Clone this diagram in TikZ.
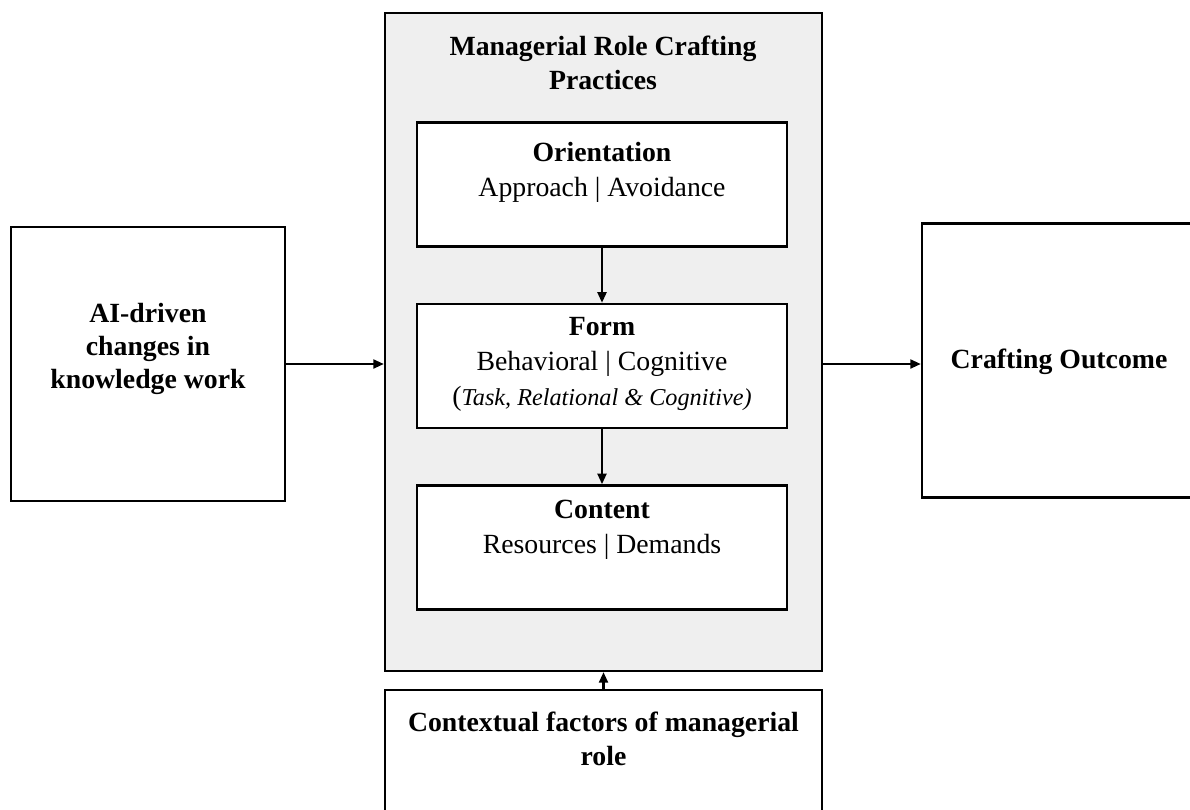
\documentclass[tikz,border=0pt]{standalone}
\usepackage{fontspec}
\setmainfont{Liberation Serif}
\usetikzlibrary{arrows.meta,positioning,calc}
\definecolor{mrPanel}{HTML}{EFEFEF}
\tikzset{
  mrbox/.style={draw, line width=1.4pt, fill=white, minimum width=7.4cm, minimum height=2.48cm, inner sep=0pt},
  sidebox/.style={mrbox, minimum width=5.48cm, minimum height=5.48cm},
  panel/.style={draw, line width=1.4pt, fill=mrPanel, minimum width=8.74cm, minimum height=13.16cm, inner sep=0pt},
  headtxt/.style={font=\fontsize{15.8}{19}\selectfont\bfseries, align=center, inner sep=0pt},
  bodytxt/.style={font=\fontsize{15.8}{20}\selectfont, align=center, inner sep=0pt},
  flow/.style={-{Triangle[length=2.1mm,width=1.8mm]}, line width=1.2pt}
}

\begin{document}
\begin{tikzpicture}[x=0.02cm, y=-0.02cm, node distance=1.1cm]
  \useasboundingbox (0,0) rectangle (1190,809);
  \clip (0,0) rectangle (1190,809);

  % central panel with the three facets
  \node[panel] (panel) at (603.5,342) {};
  \node[headtxt] (title) at (603,63) {Managerial Role Crafting\\Practices};
  \node[mrbox] (orient) at (602,184.5) {};
  \node[mrbox, below=of orient] (form) {};
  \node[mrbox, below=of form] (content) {};
  \node[bodytxt] (orienttxt) at (602,172) {\textbf{Orientation}\\Approach | Avoidance};
  \node[bodytxt] (formtxt) at (602,364) {\textbf{Form}\\Behavioral | Cognitive\\(\fontsize{13.8}{20}\selectfont\itshape Task, Relational \& Cognitive)};
  \node[bodytxt] (contenttxt) at (602,530) {\textbf{Content}\\Resources | Demands};

  % antecedent, outcome and context
  \node[sidebox] (aidriven) at (148,364) {};
  \node[headtxt] (aitxt) at (148,349) {AI-driven\\changes in\\knowledge work};
  \node[sidebox] (outcome) at (1059,360.5) {};
  \node[headtxt] (outcometxt) at (1059,362) {Crafting Outcome};
  \node[mrbox, minimum width=8.74cm, minimum height=2.8cm] (context) at (603.5,760) {};
  \node[headtxt] (contexttxt) at (603.5,739) {Contextual factors of managerial\\role};

  \draw[flow] (orient) -- (form);
  \draw[flow] (form) -- (content);
  \draw[flow] (aidriven.east) -- (aidriven.east -| panel.west);
  \draw[flow] (panel.east |- aidriven.east) -- (aidriven.east -| outcome.west);
  \draw[flow] (context) -- (panel);
\end{tikzpicture}
\end{document}
